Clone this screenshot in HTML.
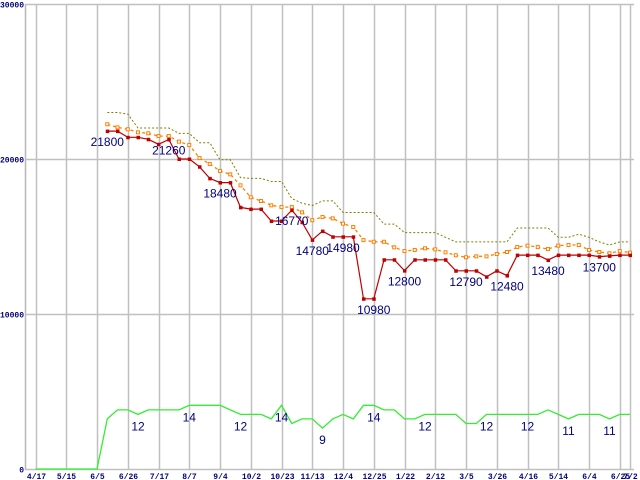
<!DOCTYPE html>
<html><head><meta charset="utf-8"><style>
html,body{margin:0;padding:0;background:#fff;}
svg{display:block;}
.tk{font-family:"Liberation Mono",monospace;font-size:8px;font-weight:bold;fill:#000080;}
.lb{font-family:"Liberation Sans",sans-serif;font-size:12px;fill:#000080;}
</style></head><body>
<svg id="chart" width="640" height="480" viewBox="0 0 640 480" xmlns="http://www.w3.org/2000/svg">
<g id="grid"></g>
<g id="series"></g>
<g id="labels"></g>
</svg>
<script>
const xTickLabels = ["4/17","5/15","6/5","6/26","7/17","8/7","9/4","10/2","10/23","11/13","12/4","12/25","1/22","2/12","3/5","3/26","4/16","5/14","6/4","6/25","7/2"];
const xTickWeeks = [0,3,6,9,12,15,18,21,24,27,30,33,36,39,42,45,48,51,54,57,58];
const yTicks = [0,10000,20000,30000];
const priceStart = 7;
const priceLow = [21800,21800,21400,21400,21270,20950,21260,20000,20000,19500,18750,18480,18480,16880,16770,16770,16000,16000,16700,15920,14780,15350,14980,14980,14980,10980,10980,13500,13500,12800,13500,13500,13500,13500,12790,12790,12790,12400,12790,12480,13800,13800,13800,13480,13800,13800,13800,13800,13700,13750,13800,13800];
const priceAvg = [22240,22040,21920,21720,21660,21480,21480,21120,20900,20060,19680,19230,19010,18300,17530,17290,17010,16900,16900,16560,16050,16260,16170,15830,15610,14770,14660,14660,14300,14060,14130,14240,14170,13980,13790,13660,13720,13720,13870,14000,14320,14410,14320,14190,14410,14450,14450,14130,14000,13920,14060,13960];
const priceHigh = [23000,23000,22900,22000,22000,22000,22000,21650,21650,21050,21050,19950,19950,18800,18750,18750,18550,18550,17450,17150,17000,17300,17300,16550,16550,16550,16550,15800,15800,15250,15250,15250,15250,14950,14650,14650,14650,14650,14650,14650,15550,15550,15550,15550,14950,14950,15150,14950,14650,14450,14650,14650];
const counts = [0,0,0,0,0,0,0,11,13,13,12,13,13,13,13,14,14,14,14,13,12,12,12,11,14,10,11,11,9,11,12,11,14,14,13,13,11,11,12,12,12,12,10,10,12,12,12,12,12,12,13,12,11,12,12,12,11,12,12];
const priceLabels = [[0,"21800"],[6,"21260"],[11,"18480"],[18,"16770"],[20,"14780"],[23,"14980"],[26,"10980"],[29,"12800"],[35,"12790"],[39,"12480"],[43,"13480"],[48,"13700"]];
const countLabels = [[10,"12"],[15,"14"],[20,"12"],[24,"14"],[28,"9"],[33,"14"],[38,"12"],[44,"12"],[48,"12"],[52,"11"],[56,"11"]];

const NS="http://www.w3.org/2000/svg";
const X = w => 35.5 + w*10.25;
const Y = v => 469 - v*0.0155;
const C = c => 469 - c*4.55;
function mk(p,t,a){const e=document.createElementNS(NS,t);for(const k in a)e.setAttribute(k,a[k]);p.appendChild(e);return e;}
const grid=document.getElementById('grid'),ser=document.getElementById('series'),lab=document.getElementById('labels');

let ax=mk(grid,'line',{x1:25.5,y1:4,x2:25.5,y2:470,stroke:'#b8b8b8','stroke-width':1.5});


yTicks.forEach(v=>{
  const y=Math.round(Y(v))+0.5;
  const l=mk(grid,'line',{x1:25,y1:y,x2:634,y2:y,stroke:'#c0c0c0','stroke-width':1.5});
  
  
  const t=mk(grid,'text',{x:v===0?24:24,y:y+3,'text-anchor':'end',class:'tk'});
  t.textContent=String(v);
  
  
});
xTickWeeks.forEach((w,i)=>{
  const x=Math.round(X(w))+0.5;
  const l=mk(grid,'line',{x1:x,y1:4,x2:x,y2:470,stroke:'#c0c0c0','stroke-width':1.5});
  
  
  const t=mk(grid,'text',{x:x,y:479,'text-anchor':'middle',class:'tk'});
  t.textContent=xTickLabels[i];
  
  
});

function pts(arr,f,start){return arr.map((v,i)=>X(start+i).toFixed(1)+','+f(v).toFixed(1)).join(' ');}
let pH=mk(ser,'polyline',{points:pts(priceHigh,Y,priceStart),fill:'none',stroke:'#808000','stroke-width':1,'stroke-dasharray':'2,2'});


let pA=mk(ser,'polyline',{points:pts(priceAvg,Y,priceStart),fill:'none',stroke:'#ff8000','stroke-width':1.3,'stroke-dasharray':'3,3'});


priceAvg.forEach((v,i)=>{
  const m=mk(ser,'rect',{x:X(priceStart+i)-1.5,y:Y(v)-1.5,width:3,height:3,fill:'#fff',stroke:'#ff8000','stroke-width':1});
  
  
});
let pL=mk(ser,'polyline',{points:pts(priceLow,Y,priceStart),fill:'none',stroke:'#c00000','stroke-width':1.2});


priceLow.forEach((v,i)=>{
  const m=mk(ser,'rect',{x:X(priceStart+i)-1.5,y:Y(v)-1.5,width:3.5,height:3.5,fill:'#c00000'});
  
  
});
let cL=mk(ser,'polyline',{points:pts(counts,C,0),fill:'none',stroke:'#33ee33','stroke-width':1.3});



priceLabels.forEach(([i,s])=>{
  const t=mk(lab,'text',{x:X(priceStart+i),y:Y(priceLow[i])+15,'text-anchor':'middle',class:'lb'});
  t.textContent=s;
  
  
});
countLabels.forEach(([i,s])=>{
  const t=mk(lab,'text',{x:X(i),y:C(counts[i])+16,'text-anchor':'middle',class:'lb'});
  t.textContent=s;
  
  
});
</script>
</body></html>
